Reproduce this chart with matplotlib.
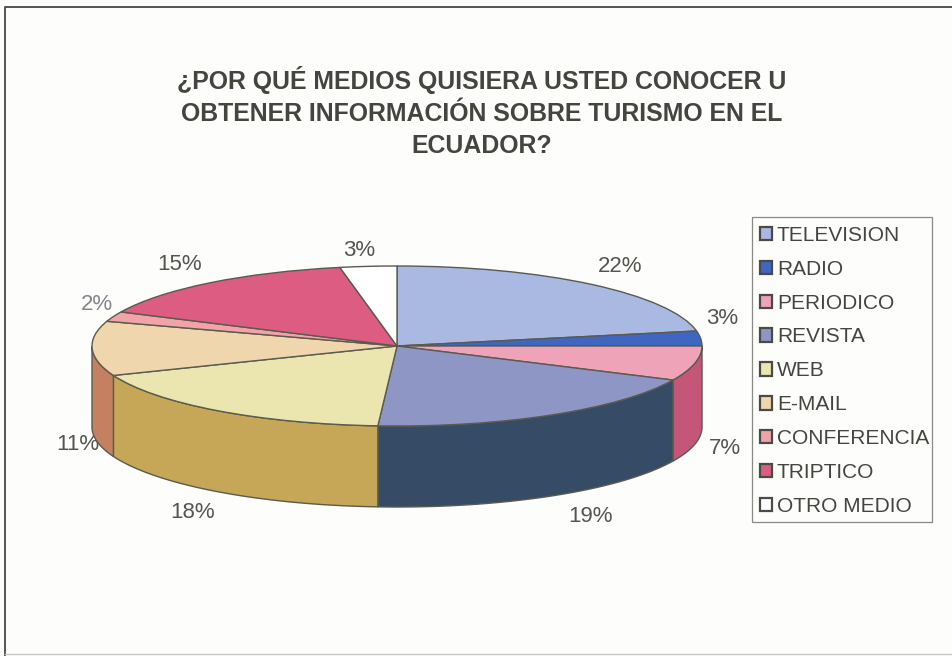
import numpy as np
import matplotlib
matplotlib.use("Agg")
import matplotlib.pyplot as plt
from matplotlib.patches import Polygon, Rectangle

plt.rcParams['font.family'] = ['Liberation Sans', 'DejaVu Sans']

categories = ["TELEVISION", "RADIO", "PERIODICO", "REVISTA", "WEB", "E-MAIL",
              "CONFERENCIA", "TRIPTICO", "OTRO MEDIO"]
values = [22, 3, 7, 19, 18, 11, 2, 15, 3]
top_colors = ["#A9B9E2", "#3F66C0", "#EFA3B8", "#8E96C6", "#EBE6B0", "#F0D6AC",
              "#F2A3A8", "#DC5C82", "#FFFFFF"]
side_colors = ["#7F8DB0", "#2C4A90", "#C4567A", "#354B66", "#C6A758", "#C58062",
               "#B87F80", "#A84060", "#CCCCCC"]
title = "¿POR QUÉ MEDIOS QUISIERA USTED CONOCER U\nOBTENER INFORMACIÓN SOBRE TURISMO EN EL\nECUADOR?"

W, H = 952, 656
fig = plt.figure(figsize=(W / 100, H / 100), dpi=100, facecolor="#FDFDFC")

# overlay in pixel coordinates for frame and text
bg = fig.add_axes([0, 0, 1, 1])
bg.set_xlim(0, W)
bg.set_ylim(H, 0)
bg.axis("off")
bg.plot([5, 5, W], [H, 7, 7], color="#555550", lw=1.4)
bg.plot([5, W], [654, 654], color="#C8C8C4", lw=1.0)
bg.add_patch(Rectangle((752, 217), 180, 305, fill=False, ec="#8A8A85", lw=0.9))
bg.text(482, 112, title, ha="center", va="center", fontsize=17.9, fontweight="bold",
        color="#454540", linespacing=1.44)

# pie axes: ellipse centred at (397,346), semi-axes 305 x 80 px, depth 81 px
cx, cy, rx, ry, depth_px = 397, 346, 305, 80, 81
left, right, top, bottom = cx - rx, cx + rx, cy - ry, cy + ry + depth_px
ax = fig.add_axes([left / W, 1 - bottom / H, (right - left) / W, (bottom - top) / H])
depth = depth_px / ry
edge = "#5A5A50"

wedges, _ = ax.pie(values, colors=top_colors, startangle=90, counterclock=False, radius=1,
                   wedgeprops=dict(edgecolor=edge, linewidth=1.0, zorder=3))
ax.set_aspect("auto")
ax.set_xlim(-1, 1)
ax.set_ylim(-1 - depth, 1)
ax.axis("off")
for w in wedges:
    w.set_clip_on(False)

# side walls: visible part is 90..270 degrees clockwise from the top
fractions = np.array(values) / sum(values) * 360
ends = np.cumsum(fractions)
starts = ends - fractions
for a0, a1, col in zip(starts, ends, side_colors):
    lo, hi = max(a0, 90), min(a1, 270)
    if hi <= lo:
        continue
    t = np.radians(np.linspace(lo, hi, 60))
    xs, ys = np.sin(t), np.cos(t)
    pts = np.r_[np.c_[xs, ys], np.c_[xs[::-1], ys[::-1] - depth]]
    ax.add_patch(Polygon(pts, closed=True, fc=col, ec=edge, lw=1.0, zorder=2, clip_on=False))

# percent labels
label_pos = [(620, 266), (722, 318), (725, 449), (590, 516), (193, 513), (78, 445),
             (97, 305), (180, 264), (359, 250)]
for v, (x, y), c in zip(values, label_pos,
                        ["#555550"] * 6 + ["#85858A"] + ["#555550"] * 2):
    bg.text(x, y, f"{v}%", ha="center", va="center", fontsize=16, color=c, zorder=5)

# legend
leg = fig.legend(wedges, categories, loc="upper left",
                 bbox_to_anchor=(751 / W, 1 - 217 / H), fontsize=15,
                 labelcolor="#454540", frameon=False, borderaxespad=0, borderpad=0.42,
                 handlelength=0.6, handleheight=0.6, handletextpad=0.22,
                 labelspacing=0.715)
for h in leg.legend_handles:
    h.set_edgecolor("#4A4A48")
    h.set_linewidth(1.6)

fig.savefig("out.png", dpi=100, facecolor=fig.get_facecolor())
